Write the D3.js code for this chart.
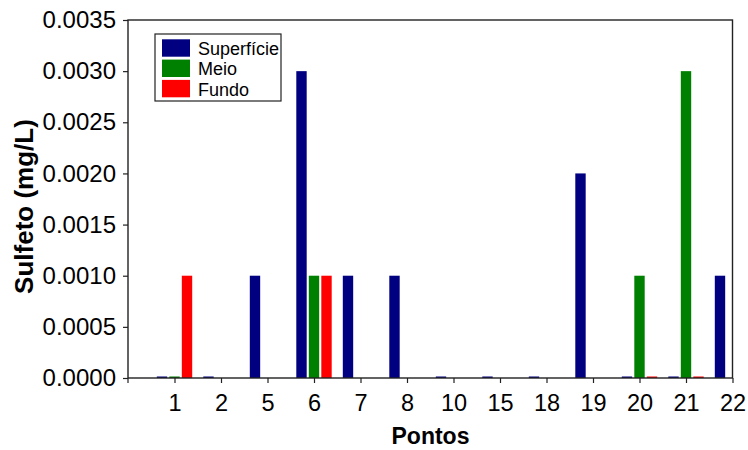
<!DOCTYPE html>
<html>
<head>
<meta charset="utf-8">
<script src="https://cdn.jsdelivr.net/npm/d3@7"></script>
<style>
  body { margin: 0; background: #fff; }
  svg, svg text { font-family: "Liberation Sans", Arial, sans-serif; }
</style>
</head>
<body>
<div id="chart"></div>
<script>
// data (null = no bar, 0 = flat bar on the axis)
const pontos = ["1", "2", "5", "6", "7", "8", "10", "15", "18", "19", "20", "21", "22"];
const series = ["Superfície", "Meio", "Fundo"];
const colors = ["#000080", "#008000", "#ff0000"];
const superficie = [0, 0, 0.001, 0.003, 0.001, 0.001, 0, 0, 0, 0.002, 0, 0, 0.001];
const meio       = [0, null, null, 0.001, null, null, null, null, null, null, 0.001, 0.003, null];
const fundo      = [0.001, null, null, 0.001, null, null, null, null, null, null, 0, 0, null];
const yTicks = [0, 0.0005, 0.001, 0.0015, 0.002, 0.0025, 0.003, 0.0035];

const W = 748, H = 450;
const pLeft = 128, pRight = 732.5, pTop = 20, pBottom = 378;
const step = (pRight - pLeft) / pontos.length;
const font = "'Liberation Sans', Arial, sans-serif";

const svg = d3.select("#chart").append("svg")
    .attr("width", W)
    .attr("height", H);

// groups sit on the tick marks, shifted one step from the left edge
const x = d3.scalePoint()
    .domain(pontos)
    .range([pLeft + step, pRight]);

const xSub = d3.scaleBand()
    .domain(series)
    .range([-17.7, 17.7])
    .paddingInner(0.17);

const y = d3.scaleLinear()
    .domain([0, 0.0035])
    .range([pBottom, pTop]);

svg.append("clipPath").attr("id", "plot")
    .append("rect")
    .attr("x", pLeft).attr("y", pTop)
    .attr("width", pRight - pLeft).attr("height", pBottom - pTop);

const rows = [];
[superficie, meio, fundo].forEach((vals, s) => {
  vals.forEach((v, i) => {
    if (v !== null) rows.push({p: pontos[i], s: series[s], c: colors[s], v: v});
  });
});

svg.append("g")
    .attr("clip-path", "url(#plot)")
    .selectAll("rect")
    .data(rows)
    .enter()
    .append("rect")
    .attr("x", d => x(d.p) + xSub(d.s))
    .attr("width", xSub.bandwidth())
    .attr("y", d => Math.min(y(d.v), pBottom - 1.5))
    .attr("height", d => Math.max(pBottom - y(d.v), 1.5))
    .attr("fill", d => d.c);

// Y axis
const yAxis = svg.append("g")
    .attr("transform", `translate(${pLeft},0)`)
    .call(d3.axisLeft(y).tickValues(yTicks).tickFormat(d3.format(".4f")).tickSize(5).tickPadding(7));
yAxis.attr("font-family", null).attr("font-size", null);
yAxis.select(".domain").remove();
yAxis.selectAll("line").attr("stroke", "#222").attr("stroke-width", 1.2);
yAxis.selectAll("text")
    .style("font-family", font)
    .style("font-size", "24px")
    .attr("fill", "#000");

// X axis
const xAxis = svg.append("g")
    .attr("transform", `translate(0,${pBottom})`)
    .call(d3.axisBottom(x).tickSize(5).tickPadding(11));
xAxis.attr("font-family", null).attr("font-size", null);
xAxis.select(".domain").remove();
xAxis.selectAll("line").attr("stroke", "#222").attr("stroke-width", 1.2);
xAxis.selectAll("text")
    .style("font-family", font)
    .style("font-size", "23.5px")
    .attr("fill", "#000");
xAxis.append("line")
    .attr("x1", pLeft).attr("x2", pLeft)
    .attr("y1", 0).attr("y2", 5)
    .attr("stroke", "#222").attr("stroke-width", 1.2);

// frame
svg.append("rect")
    .attr("x", pLeft).attr("y", pTop)
    .attr("width", pRight - pLeft).attr("height", pBottom - pTop)
    .attr("fill", "none")
    .attr("stroke", "#222")
    .attr("stroke-width", 1.4);

// axis titles
svg.append("text")
    .attr("x", 430.5).attr("y", 444)
    .attr("text-anchor", "middle")
    .style("font-family", font)
    .style("font-size", "23px")
    .attr("font-weight", "bold")
    .text("Pontos");

svg.append("text")
    .attr("transform", "translate(33,206.5) rotate(-90)")
    .attr("text-anchor", "middle")
    .style("font-family", font)
    .style("font-size", "26px")
    .attr("font-weight", "bold")
    .text("Sulfeto (mg/L)");

// legend
const legend = svg.append("g").attr("transform", "translate(155,34)");
legend.append("rect")
    .attr("width", 126).attr("height", 67)
    .attr("fill", "#fff")
    .attr("stroke", "#222")
    .attr("stroke-width", 1.2);
series.forEach((s, i) => {
  const row = legend.append("g").attr("transform", `translate(7,${5.3 + i * 20.3})`);
  row.append("rect")
      .attr("width", 28).attr("height", 17.4)
      .attr("fill", colors[i]);
  row.append("text")
      .attr("x", 36).attr("y", 15.7)
      .style("font-family", font)
      .style("font-size", "18px")
      .text(s);
});
</script>
</body>
</html>
